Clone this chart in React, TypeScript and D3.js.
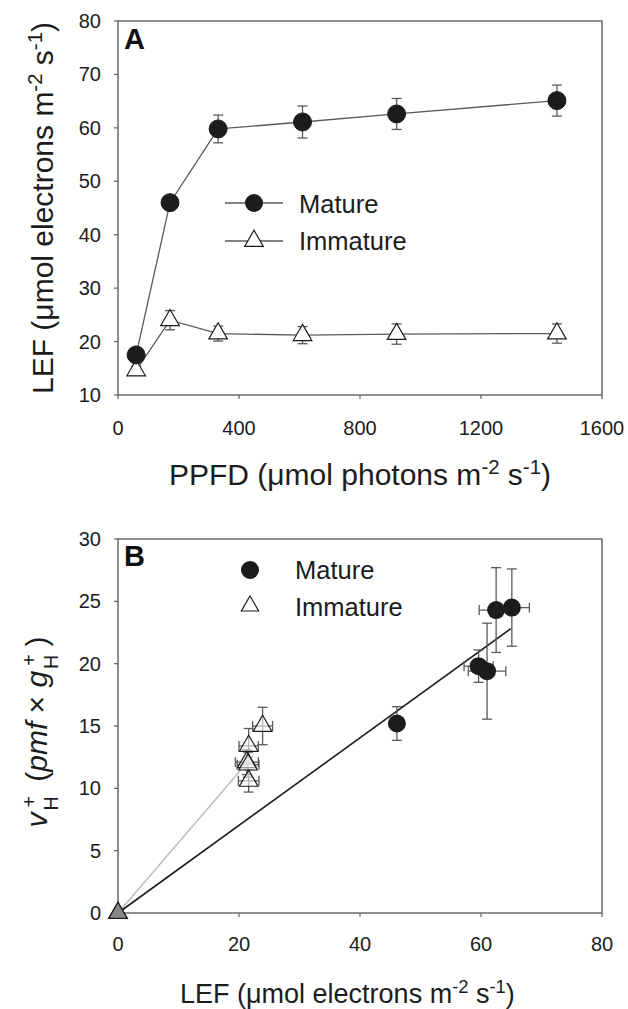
import React from "react";
import * as d3 from "d3";

// ---------- Data ----------
const ppfd = [60, 172, 331, 610, 921, 1451];
const lefMature = [17.5, 46.0, 59.8, 61.1, 62.6, 65.1];
const lefMatureErr = [0.8, 1.0, 2.6, 3.0, 2.9, 2.9];
const lefImmature = [14.6, 24.0, 21.5, 21.2, 21.4, 21.5];
const lefImmatureErr = [0.8, 1.8, 1.4, 1.6, 1.9, 1.8];

const ppfdTicks = [0, 400, 800, 1200, 1600];
const lefTicksA = [10, 20, 30, 40, 50, 60, 70, 80];

// Panel B
const bMatureLEF = [0, 46.1, 59.6, 61.0, 62.5, 65.1];
const bMatureLEFErr = [0, 0, 2.4, 3.1, 2.8, 2.9];
const bMatureVH = [0, 15.2, 19.8, 19.4, 24.3, 24.5];
const bMatureVHErr = [0, 1.35, 1.3, 3.85, 3.4, 3.1];

const bImmLEF = [0, 23.9, 21.6, 21.3, 21.5, 21.6];
const bImmLEFErr = [0, 1.65, 1.6, 1.9, 1.8, 1.7];
const bImmVH = [0, 15.0, 13.4, 12.1, 11.9, 10.6];
const bImmVHErr = [0, 1.5, 1.4, 1.0, 1.0, 0.9];

const fitMature = [
  [0, 0],
  [64.9, 22.8],
];
const fitImmature = [
  [0, 0],
  [22.3, 12.6],
];

const lefTicksB = [0, 20, 40, 60, 80];
const vhTicks = [0, 5, 10, 15, 20, 25, 30];

// ---------- Layout ----------
const W = 628;
const H = 1009;
const FONT = "'Liberation Sans', Arial, Helvetica, sans-serif";
const INK = "#1c1c1c";
const GREY = "#5a5a5a";
const FRAME = "#6a6a6a";

const left = 118;
const right = 602;
const aTop = 21;
const aBottom = 395;
const bTop = 539;
const bBottom = 913;

const xA = d3.scaleLinear().domain([0, 1600]).range([left, right]);
const yA = d3.scaleLinear().domain([10, 80]).range([aBottom, aTop]);
const xB = d3.scaleLinear().domain([0, 80]).range([left, right]);
const yB = d3.scaleLinear().domain([0, 30]).range([bBottom, bTop]);

const circlePath = d3.symbol(d3.symbolCircle, Math.PI * 9 * 9)()!;
const trianglePath = d3.symbol(d3.symbolTriangle, 150)()!;
const legendTriPath = d3.symbol(d3.symbolTriangle, 130)()!;

const CAP = 5;

function Frame({ top, bottom }: { top: number; bottom: number }) {
  return (
    <rect
      x={left}
      y={top}
      width={right - left}
      height={bottom - top}
      fill="none"
      stroke={FRAME}
      strokeWidth={1.5}
    />
  );
}

function VErr({ x, y1, y2 }: { x: number; y1: number; y2: number }) {
  return (
    <g stroke={GREY} strokeWidth={1.3}>
      <line x1={x} x2={x} y1={y1} y2={y2} />
      <line x1={x - CAP} x2={x + CAP} y1={y1} y2={y1} />
      <line x1={x - CAP} x2={x + CAP} y1={y2} y2={y2} />
    </g>
  );
}

function HErr({ y, x1, x2 }: { y: number; x1: number; x2: number }) {
  return (
    <g stroke={GREY} strokeWidth={1.3}>
      <line x1={x1} x2={x2} y1={y} y2={y} />
      <line x1={x1} x2={x1} y1={y - CAP} y2={y + CAP} />
      <line x1={x2} x2={x2} y1={y - CAP} y2={y + CAP} />
    </g>
  );
}

function Sup({ children }: { children: string }) {
  return (
    <tspan baselineShift="super" fontSize="68%">
      {children}
    </tspan>
  );
}

export default function App() {
  const lineA = d3
    .line<[number, number]>()
    .x((d) => xA(d[0]))
    .y((d) => yA(d[1]));
  const lineB = d3
    .line<number[]>()
    .x((d) => xB(d[0]))
    .y((d) => yB(d[1]));

  const matPts = ppfd.map((p, i) => [p, lefMature[i]] as [number, number]);
  const immPts = ppfd.map((p, i) => [p, lefImmature[i]] as [number, number]);

  return (
    <svg
      width={W}
      height={H}
      style={{ position: "absolute", left: 0, top: 0, background: "#fff" }}
      fontFamily={FONT}
    >
      {/* ================= Panel A ================= */}
      <Frame top={aTop} bottom={aBottom} />
      {lefTicksA.map((t) => (
        <g key={"ya" + t}>
          <line x1={left - 4} x2={left} y1={yA(t)} y2={yA(t)} stroke={FRAME} strokeWidth={1.3} />
          <text x={left - 17} y={yA(t)} dy="0.35em" textAnchor="end" fontSize={20} fill={INK}>
            {t}
          </text>
        </g>
      ))}
      {ppfdTicks.map((t) => (
        <g key={"xa" + t}>
          <line x1={xA(t)} x2={xA(t)} y1={aBottom} y2={aBottom + 4} stroke={FRAME} strokeWidth={1.3} />
          <text x={xA(t)} y={aBottom + 40} textAnchor="middle" fontSize={20} fill={INK}>
            {t}
          </text>
        </g>
      ))}
      <text x={360} y={485} textAnchor="middle" fontSize={30} fill={INK}>
        PPFD (μmol photons m<Sup>-2</Sup> s<Sup>-1</Sup>)
      </text>
      <text
        transform={`translate(53, ${(aTop + aBottom) / 2}) rotate(-90)`}
        textAnchor="middle"
        fontSize={30}
        fill={INK}
      >
        LEF (μmol electrons m<Sup>-2</Sup> s<Sup>-1</Sup>)
      </text>
      <text x={124} y={49} fontSize={29} fontWeight="bold" fill="#111">
        A
      </text>

      <path d={lineA(matPts)!} fill="none" stroke={GREY} strokeWidth={1.3} />
      <path d={lineA(immPts)!} fill="none" stroke={GREY} strokeWidth={1.3} />
      {ppfd.map((p, i) => (
        <VErr
          key={"ema" + i}
          x={xA(p)}
          y1={yA(lefMature[i] + lefMatureErr[i])}
          y2={yA(lefMature[i] - lefMatureErr[i])}
        />
      ))}
      {ppfd.map((p, i) => (
        <VErr
          key={"eia" + i}
          x={xA(p)}
          y1={yA(lefImmature[i] + lefImmatureErr[i])}
          y2={yA(lefImmature[i] - lefImmatureErr[i])}
        />
      ))}
      {immPts.map((d, i) => (
        <path
          key={"ia" + i}
          d={trianglePath}
          transform={`translate(${xA(d[0])},${yA(d[1])})`}
          fill="#fff"
          stroke={INK}
          strokeWidth={1.2}
        />
      ))}
      {matPts.map((d, i) => (
        <path
          key={"ma" + i}
          d={circlePath}
          transform={`translate(${xA(d[0])},${yA(d[1])})`}
          fill={INK}
          stroke={INK}
          strokeWidth={1}
        />
      ))}
      <g>
        <line x1={225} x2={283} y1={203} y2={203} stroke={GREY} strokeWidth={1.3} />
        <path d={circlePath} transform="translate(254,203)" fill={INK} />
        <text x={299} y={213} fontSize={25.5} fill={INK}>
          Mature
        </text>
        <line x1={225} x2={283} y1={241} y2={241} stroke={GREY} strokeWidth={1.3} />
        <path d={trianglePath} transform="translate(254,241)" fill="#fff" stroke={INK} strokeWidth={1.2} />
        <text x={299} y={250} fontSize={25.5} fill={INK}>
          Immature
        </text>
      </g>

      {/* ================= Panel B ================= */}
      <Frame top={bTop} bottom={bBottom} />
      {vhTicks.map((t) => (
        <g key={"yb" + t}>
          <line x1={left - 4} x2={left} y1={yB(t)} y2={yB(t)} stroke={FRAME} strokeWidth={1.3} />
          <text x={left - 17} y={yB(t)} dy="0.35em" textAnchor="end" fontSize={20} fill={INK}>
            {t}
          </text>
        </g>
      ))}
      {lefTicksB.map((t) => (
        <g key={"xb" + t}>
          <line x1={xB(t)} x2={xB(t)} y1={bBottom} y2={bBottom + 4} stroke={FRAME} strokeWidth={1.3} />
          <text x={xB(t)} y={bBottom + 38} textAnchor="middle" fontSize={20} fill={INK}>
            {t}
          </text>
        </g>
      ))}
      <text x={180} y={1003} fontSize={27} fill={INK}>
        LEF (μmol electrons m<Sup>-2</Sup> s<Sup>-1</Sup>)
      </text>
      <text
        transform={`translate(47, ${(bTop + bBottom) / 2 + 6}) rotate(-90)`}
        textAnchor="middle"
        fontSize={30}
        fill={INK}
      >
        <tspan fontStyle="italic">v</tspan>
        <tspan baselineShift="sub" fontSize="65%" dx={2}>H</tspan>
        <tspan baselineShift="super" fontSize="65%" dx={-11}>+</tspan>
        <tspan dx={6}> (</tspan>
        <tspan fontStyle="italic">pmf</tspan>
        <tspan> × </tspan>
        <tspan fontStyle="italic">g</tspan>
        <tspan baselineShift="sub" fontSize="65%" dx={2}>H</tspan>
        <tspan baselineShift="super" fontSize="65%" dx={-11}>+</tspan>
        <tspan dx={8}>)</tspan>
      </text>
      <text x={124} y={566} fontSize={29} fontWeight="bold" fill="#111">
        B
      </text>

      <path d={lineB(fitImmature)!} fill="none" stroke="#bdbdbd" strokeWidth={1.5} />
      <path d={lineB(fitMature)!} fill="none" stroke={INK} strokeWidth={1.6} />

      {bImmLEF.map((v, i) =>
        i === 0 ? null : (
          <g key={"eib" + i}>
            <VErr x={xB(v)} y1={yB(bImmVH[i] + bImmVHErr[i])} y2={yB(bImmVH[i] - bImmVHErr[i])} />
            <HErr y={yB(bImmVH[i])} x1={xB(v - bImmLEFErr[i])} x2={xB(v + bImmLEFErr[i])} />
          </g>
        )
      )}
      {bImmLEF.map((v, i) => (
        <path
          key={"ib" + i}
          d={trianglePath}
          transform={`translate(${xB(v)},${yB(bImmVH[i])})`}
          fill="#fff"
          fillOpacity={i === 0 ? 1 : 0.55}
          stroke={INK}
          strokeWidth={1.2}
        />
      ))}
      {bMatureLEF.map((v, i) =>
        i === 0 ? null : (
          <g key={"emb" + i}>
            <VErr x={xB(v)} y1={yB(bMatureVH[i] + bMatureVHErr[i])} y2={yB(bMatureVH[i] - bMatureVHErr[i])} />
            {bMatureLEFErr[i] > 0 ? (
              <HErr y={yB(bMatureVH[i])} x1={xB(v - bMatureLEFErr[i])} x2={xB(v + bMatureLEFErr[i])} />
            ) : null}
          </g>
        )
      )}
      {bMatureLEF.map((v, i) =>
        i === 0 ? null : (
          <path
            key={"mb" + i}
            d={circlePath}
            transform={`translate(${xB(v)},${yB(bMatureVH[i])})`}
            fill={INK}
          />
        )
      )}
      <path
        d={trianglePath}
        transform={`translate(${xB(0)},${yB(0)})`}
        fill="#888"
        stroke={INK}
        strokeWidth={1.2}
      />

      <path d={circlePath} transform="translate(250,570)" fill={INK} />
      <text x={295} y={579} fontSize={25.5} fill={INK}>
        Mature
      </text>
      <path d={legendTriPath} transform="translate(250,606)" fill="#fff" stroke={INK} strokeWidth={1.2} />
      <text x={295} y={616} fontSize={25.5} fill={INK}>
        Immature
      </text>
    </svg>
  );
}
